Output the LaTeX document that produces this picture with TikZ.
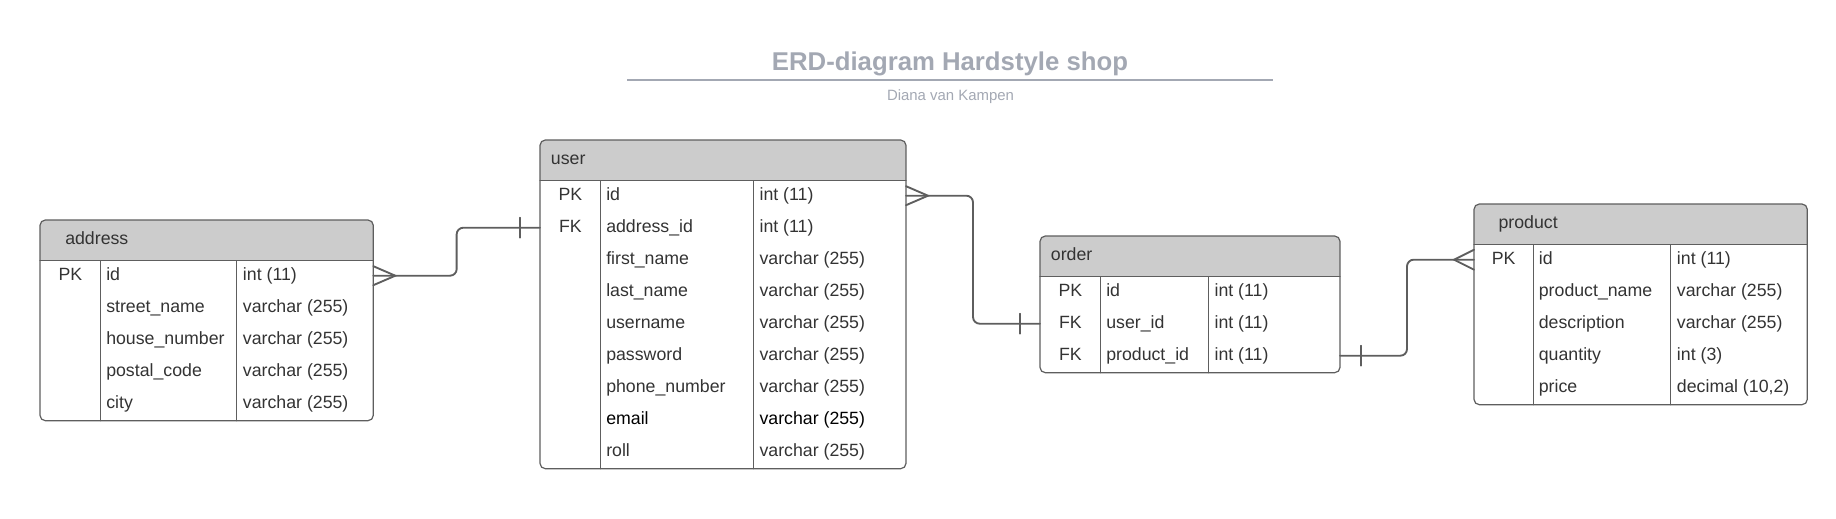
\documentclass[tikz,border=0pt]{standalone}
\usepackage{fontspec}
\setmainfont{Liberation Sans}
\usetikzlibrary{calc}
\definecolor{TitleGray}{HTML}{A3A8B3}
\definecolor{HeadGray}{HTML}{CCCCCC}
\definecolor{LineGray}{HTML}{5E5E5E}
\definecolor{TextGray}{HTML}{333333}
\tikzset{
  tableline/.style={LineGray,line width=0.9pt},
  rel/.style={LineGray,line width=1.4pt,rounded corners=5},
  cell/.style={inner sep=0pt,text height=9.5pt,text depth=0pt,font=\fontsize{13.3}{15}\selectfont,text=TextGray},
  rowbox/.style={inner sep=0pt,outer sep=0pt,minimum height=24pt}
}
\newcommand{\erdtable}[9]{%
  \begin{scope}
    \clip[rounded corners=4] (#2,#3) rectangle (#6,{#3+40.7+32*#9});
    \fill[HeadGray] (#2,#3) rectangle (#6,#3+40.7);
  \end{scope}
  \draw[tableline,rounded corners=4] (#2,#3) rectangle (#6,{#3+40.7+32*#9});
  \draw[tableline] (#2,#3+40.7) -- (#6,#3+40.7) (#4,#3+40.7) -- (#4,{#3+40.7+32*#9}) (#5,#3+40.7) -- (#5,{#3+40.7+32*#9});
  \node[cell,anchor=west] (#1-head) at (#2+#7,#3+18.5) {#1};
  \foreach \kk/\fld/\typ [count=\i] in {#8} {
    \node[rowbox,minimum width={(#6-#2)*0.75pt}] (#1-\i) at ({(#2+#6)/2},{#3+55.7+32*(\i-1)}) {};
    \node[cell] (#1-\i-key) at ({(#2+#4)/2},{#3+54.2+32*(\i-1)}) {\kk};
    \node[cell,anchor=west] (#1-\i-name) at (#4+5.3,{#3+54.2+32*(\i-1)}) {\fld};
    \node[cell,anchor=west] (#1-\i-type) at (#5+6,{#3+54.2+32*(\i-1)}) {\typ};
  }
}
\begin{document}
\begin{tikzpicture}[x=0.75pt,y=-0.75pt,line cap=round]
  \useasboundingbox (0,0) rectangle (1836,518);
  \node[anchor=base,text=TitleGray,font=\bfseries\fontsize{19.3}{22}\selectfont] (title) at (950,70) {ERD-diagram Hardstyle shop};
  \draw[TitleGray,line width=1.4pt,line cap=butt] (627.3,80) -- (1273.3,80);
  \node[anchor=base,text=TitleGray,font=\fontsize{11.2}{13}\selectfont] (author) at (950.5,100) {Diana van Kampen};
  \erdtable{address}{40}{220}{100.7}{236.7}{373.3}{25}{PK/id/{int (11)}, /street\_name/{varchar (255)}, /house\_number/{varchar (255)}, /postal\_code/{varchar (255)}, /city/{varchar (255)}}{5}
  \erdtable{user}{540}{140}{600.7}{753.3}{906}{10.7}{PK/id/{int (11)}, FK/address\_id/{int (11)}, /first\_name/{varchar (255)}, /last\_name/{varchar (255)}, /username/{varchar (255)}, /password/{varchar (255)}, /phone\_number/{varchar (255)}, /{\color{black}email}/{\color{black}varchar (255)}, /roll/{varchar (255)}}{9}
  \erdtable{order}{1040}{236}{1100.7}{1208.3}{1340}{10.7}{PK/id/{int (11)}, FK/user\_id/{int (11)}, FK/product\_id/{int (11)}}{3}
  \erdtable{product}{1474}{204}{1533.3}{1670.7}{1807.3}{24.3}{PK/id/{int (11)}, /product\_name/{varchar (255)}, /description/{varchar (255)}, /quantity/{int (3)}, /price/{decimal (10,2)}}{5}
  \draw[rel] (address-1.east) -| ($(address-1.east)!.5!(user-2.west)$) |- (user-2.west);
  \draw[rel] (user-1.east) -| ($(user-1.east)!.5!(order-2.west)$) |- (order-2.west);
  \draw[rel] (order-3.east) -| ($(order-3.east)!.5!(product-1.west)$) |- (product-1.west);
  \draw[rel,rounded corners=0] ($(address-1.east)+(0,-9.5)$) -- ($(address-1.east)+(22,0)$) -- ($(address-1.east)+(0,9.5)$);
  \draw[rel,rounded corners=0] ($(user-1.east)+(0,-9.5)$) -- ($(user-1.east)+(22,0)$) -- ($(user-1.east)+(0,9.5)$);
  \draw[rel,rounded corners=0] ($(product-1.west)+(0,-10)$) -- ($(product-1.west)+(-20,0)$) -- ($(product-1.west)+(0,10)$);
  \draw[rel] ($(user-2.west)+(-20,-10)$) -- ++(0,20);
  \draw[rel] ($(order-2.west)+(-20,-10)$) -- ++(0,20);
  \draw[rel] ($(order-3.east)+(21,-10)$) -- ++(0,20);
\end{tikzpicture}
\end{document}
